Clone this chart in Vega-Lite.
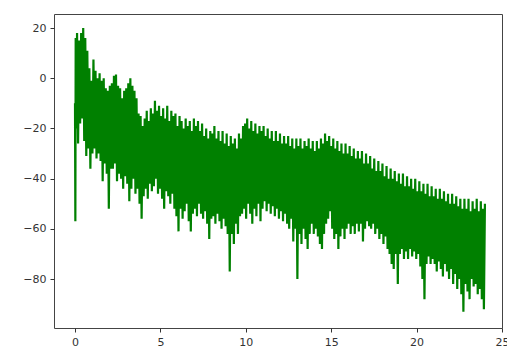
{
  "$schema": "https://vega.github.io/schema/vega-lite/v6.json",
  "width": 448,
  "height": 314,
  "autosize": {"type": "none"},
  "padding": {"left": 54, "top": 14, "right": 5, "bottom": 24},
  "background": "white",
  "config": {
    "view": {"stroke": "#444", "strokeWidth": 1},
    "axis": {"grid": false, "domain": false, "tickColor": "#333", "tickSize": 4, "labelColor": "#333", "labelFont": "DejaVu Sans", "labelFontSize": 11, "labelPadding": 4, "title": null}
  },
  "data": {"values": [
    {"f":0.00,"db":-10},{"f":0.02,"db":-57},{"f":0.04,"db":16},
    {"f":0.06,"db":-20},{"f":0.12,"db":18},{"f":0.18,"db":-26},{"f":0.24,"db":15},{"f":0.30,"db":-18},{"f":0.36,"db":18},{"f":0.42,"db":-16},{"f":0.48,"db":20},{"f":0.54,"db":-25},{"f":0.60,"db":16},
    {"f":0.66,"db":-31},{"f":0.72,"db":11},{"f":0.78,"db":-28},{"f":0.84,"db":4},{"f":0.90,"db":-36},{"f":0.96,"db":-1},{"f":1.02,"db":-30},{"f":1.08,"db":7.5},{"f":1.14,"db":-28},{"f":1.20,"db":3},
    {"f":1.26,"db":-32},{"f":1.32,"db":0},{"f":1.38,"db":-30},{"f":1.44,"db":2},{"f":1.50,"db":-33},{"f":1.56,"db":-1},{"f":1.62,"db":-41},{"f":1.68,"db":0},{"f":1.74,"db":-34},{"f":1.80,"db":-4},
    {"f":1.86,"db":-38},{"f":1.92,"db":-5},{"f":1.98,"db":-52},{"f":2.04,"db":-3},{"f":2.10,"db":-36},{"f":2.16,"db":-2},{"f":2.22,"db":-36},{"f":2.28,"db":1},{"f":2.34,"db":-34},{"f":2.40,"db":1.5},
    {"f":2.46,"db":-41},{"f":2.52,"db":-3},{"f":2.58,"db":-38},{"f":2.64,"db":-4},{"f":2.70,"db":-40},{"f":2.76,"db":-8},{"f":2.82,"db":-44},{"f":2.88,"db":-5},{"f":2.94,"db":-39},{"f":3.00,"db":-4},
    {"f":3.06,"db":-42},{"f":3.12,"db":-2},{"f":3.18,"db":-49},{"f":3.24,"db":0},{"f":3.30,"db":-44},{"f":3.36,"db":-3},{"f":3.42,"db":-40},{"f":3.48,"db":-5},{"f":3.54,"db":-46},{"f":3.60,"db":-8},
    {"f":3.66,"db":-44},{"f":3.72,"db":-14},{"f":3.78,"db":-50},{"f":3.84,"db":-15},{"f":3.90,"db":-56},{"f":3.96,"db":-19},{"f":4.02,"db":-47},{"f":4.08,"db":-16},{"f":4.14,"db":-44},{"f":4.20,"db":-13},
    {"f":4.26,"db":-48},{"f":4.32,"db":-17},{"f":4.38,"db":-42},{"f":4.44,"db":-12},{"f":4.50,"db":-45},{"f":4.56,"db":-14},{"f":4.62,"db":-43},{"f":4.68,"db":-9},{"f":4.74,"db":-40},{"f":4.80,"db":-13},
    {"f":4.86,"db":-46},{"f":4.92,"db":-11},{"f":4.98,"db":-44},{"f":5.04,"db":-15},{"f":5.10,"db":-48},{"f":5.16,"db":-12},{"f":5.22,"db":-52},{"f":5.28,"db":-16},{"f":5.34,"db":-45},{"f":5.40,"db":-11},
    {"f":5.46,"db":-47},{"f":5.52,"db":-17},{"f":5.58,"db":-50},{"f":5.64,"db":-13},{"f":5.70,"db":-46},{"f":5.76,"db":-15},{"f":5.82,"db":-52},{"f":5.88,"db":-14},{"f":5.94,"db":-55},{"f":6.00,"db":-19},
    {"f":6.06,"db":-61},{"f":6.12,"db":-15},{"f":6.18,"db":-52},{"f":6.24,"db":-17},{"f":6.30,"db":-56},{"f":6.36,"db":-20},{"f":6.42,"db":-53},{"f":6.48,"db":-16},{"f":6.54,"db":-50},{"f":6.60,"db":-19},
    {"f":6.66,"db":-57},{"f":6.72,"db":-17},{"f":6.78,"db":-61},{"f":6.84,"db":-21},{"f":6.90,"db":-54},{"f":6.96,"db":-16},{"f":7.02,"db":-52},{"f":7.08,"db":-19},{"f":7.14,"db":-55},{"f":7.20,"db":-17},
    {"f":7.26,"db":-50},{"f":7.32,"db":-21},{"f":7.38,"db":-54},{"f":7.44,"db":-18},{"f":7.50,"db":-56},{"f":7.56,"db":-23},{"f":7.62,"db":-53},{"f":7.68,"db":-20},{"f":7.74,"db":-58},{"f":7.80,"db":-24},
    {"f":7.86,"db":-64},{"f":7.92,"db":-21},{"f":7.98,"db":-56},{"f":8.04,"db":-22},{"f":8.10,"db":-55},{"f":8.16,"db":-19},{"f":8.22,"db":-58},{"f":8.28,"db":-24},{"f":8.34,"db":-54},{"f":8.40,"db":-21},
    {"f":8.46,"db":-57},{"f":8.52,"db":-25},{"f":8.58,"db":-60},{"f":8.64,"db":-21},{"f":8.70,"db":-56},{"f":8.76,"db":-26},{"f":8.82,"db":-59},{"f":8.88,"db":-22},{"f":8.94,"db":-62},{"f":9.00,"db":-27},
    {"f":9.06,"db":-77},{"f":9.12,"db":-23},{"f":9.18,"db":-62},{"f":9.24,"db":-26},{"f":9.30,"db":-66},{"f":9.36,"db":-24},{"f":9.42,"db":-58},{"f":9.48,"db":-28},{"f":9.54,"db":-62},{"f":9.60,"db":-22},
    {"f":9.66,"db":-55},{"f":9.72,"db":-24},{"f":9.78,"db":-54},{"f":9.84,"db":-19},{"f":9.90,"db":-52},{"f":9.96,"db":-18},{"f":10.02,"db":-56},{"f":10.08,"db":-16},{"f":10.14,"db":-50},{"f":10.20,"db":-20},
    {"f":10.26,"db":-54},{"f":10.32,"db":-17},{"f":10.38,"db":-58},{"f":10.44,"db":-21},{"f":10.50,"db":-52},{"f":10.56,"db":-18},{"f":10.62,"db":-55},{"f":10.68,"db":-22},{"f":10.74,"db":-50},{"f":10.80,"db":-19},
    {"f":10.86,"db":-57},{"f":10.92,"db":-21},{"f":10.98,"db":-52},{"f":11.04,"db":-19},{"f":11.10,"db":-49},{"f":11.16,"db":-23},{"f":11.22,"db":-53},{"f":11.28,"db":-20},{"f":11.34,"db":-50},{"f":11.40,"db":-24},
    {"f":11.46,"db":-54},{"f":11.52,"db":-21},{"f":11.58,"db":-51},{"f":11.64,"db":-25},{"f":11.70,"db":-55},{"f":11.76,"db":-21},{"f":11.82,"db":-52},{"f":11.88,"db":-25},{"f":11.94,"db":-56},{"f":12.00,"db":-22},
    {"f":12.06,"db":-53},{"f":12.12,"db":-26},{"f":12.18,"db":-57},{"f":12.24,"db":-23},{"f":12.30,"db":-54},{"f":12.36,"db":-26},{"f":12.42,"db":-58},{"f":12.48,"db":-23},{"f":12.54,"db":-60},{"f":12.60,"db":-27},
    {"f":12.66,"db":-56},{"f":12.72,"db":-24},{"f":12.78,"db":-65},{"f":12.84,"db":-28},{"f":12.90,"db":-60},{"f":12.96,"db":-24},{"f":13.02,"db":-80},{"f":13.08,"db":-27},{"f":13.14,"db":-62},{"f":13.20,"db":-24},
    {"f":13.26,"db":-66},{"f":13.32,"db":-28},{"f":13.38,"db":-60},{"f":13.44,"db":-25},{"f":13.50,"db":-64},{"f":13.56,"db":-27},{"f":13.62,"db":-68},{"f":13.68,"db":-24},{"f":13.74,"db":-62},{"f":13.80,"db":-28},
    {"f":13.86,"db":-58},{"f":13.92,"db":-25},{"f":13.98,"db":-62},{"f":14.04,"db":-29},{"f":14.10,"db":-60},{"f":14.16,"db":-25},{"f":14.22,"db":-63},{"f":14.28,"db":-28},{"f":14.34,"db":-66},{"f":14.40,"db":-24},
    {"f":14.46,"db":-68},{"f":14.52,"db":-26},{"f":14.58,"db":-62},{"f":14.64,"db":-22},{"f":14.70,"db":-58},{"f":14.76,"db":-25},{"f":14.82,"db":-56},{"f":14.88,"db":-23},{"f":14.94,"db":-53},{"f":15.00,"db":-27},
    {"f":15.06,"db":-60},{"f":15.12,"db":-24},{"f":15.18,"db":-64},{"f":15.24,"db":-28},{"f":15.30,"db":-62},{"f":15.36,"db":-25},{"f":15.42,"db":-68},{"f":15.48,"db":-29},{"f":15.54,"db":-63},{"f":15.60,"db":-26},
    {"f":15.66,"db":-60},{"f":15.72,"db":-30},{"f":15.78,"db":-64},{"f":15.84,"db":-26},{"f":15.90,"db":-60},{"f":15.96,"db":-30},{"f":16.02,"db":-58},{"f":16.08,"db":-27},{"f":16.14,"db":-62},{"f":16.20,"db":-31},
    {"f":16.26,"db":-59},{"f":16.32,"db":-28},{"f":16.38,"db":-62},{"f":16.44,"db":-32},{"f":16.50,"db":-58},{"f":16.56,"db":-29},{"f":16.62,"db":-61},{"f":16.68,"db":-32},{"f":16.74,"db":-58},{"f":16.80,"db":-29},
    {"f":16.86,"db":-65},{"f":16.92,"db":-34},{"f":16.98,"db":-60},{"f":17.04,"db":-30},{"f":17.10,"db":-57},{"f":17.16,"db":-34},{"f":17.22,"db":-59},{"f":17.28,"db":-31},{"f":17.34,"db":-60},{"f":17.40,"db":-36},
    {"f":17.46,"db":-58},{"f":17.52,"db":-32},{"f":17.58,"db":-62},{"f":17.64,"db":-37},{"f":17.70,"db":-60},{"f":17.76,"db":-33},{"f":17.82,"db":-64},{"f":17.88,"db":-37},{"f":17.94,"db":-62},{"f":18.00,"db":-34},
    {"f":18.06,"db":-66},{"f":18.12,"db":-39},{"f":18.18,"db":-63},{"f":18.24,"db":-35},{"f":18.30,"db":-68},{"f":18.36,"db":-40},{"f":18.42,"db":-70},{"f":18.48,"db":-36},{"f":18.54,"db":-74},{"f":18.60,"db":-40},
    {"f":18.66,"db":-76},{"f":18.72,"db":-37},{"f":18.78,"db":-70},{"f":18.84,"db":-41},{"f":18.90,"db":-82},{"f":18.96,"db":-38},{"f":19.02,"db":-70},{"f":19.08,"db":-42},{"f":19.14,"db":-68},{"f":19.20,"db":-38},
    {"f":19.26,"db":-72},{"f":19.32,"db":-43},{"f":19.38,"db":-69},{"f":19.44,"db":-39},{"f":19.50,"db":-72},{"f":19.56,"db":-43},{"f":19.62,"db":-68},{"f":19.68,"db":-40},{"f":19.74,"db":-71},{"f":19.80,"db":-44},
    {"f":19.86,"db":-69},{"f":19.92,"db":-40},{"f":19.98,"db":-72},{"f":20.04,"db":-45},{"f":20.10,"db":-70},{"f":20.16,"db":-41},{"f":20.22,"db":-75},{"f":20.28,"db":-45},{"f":20.34,"db":-80},{"f":20.40,"db":-42},
    {"f":20.46,"db":-88},{"f":20.52,"db":-46},{"f":20.58,"db":-74},{"f":20.64,"db":-42},{"f":20.70,"db":-71},{"f":20.76,"db":-47},{"f":20.82,"db":-74},{"f":20.88,"db":-43},{"f":20.94,"db":-72},{"f":21.00,"db":-47},
    {"f":21.06,"db":-74},{"f":21.12,"db":-44},{"f":21.18,"db":-77},{"f":21.24,"db":-48},{"f":21.30,"db":-73},{"f":21.36,"db":-44},{"f":21.42,"db":-76},{"f":21.48,"db":-48},{"f":21.54,"db":-79},{"f":21.60,"db":-45},
    {"f":21.66,"db":-74},{"f":21.72,"db":-49},{"f":21.78,"db":-77},{"f":21.84,"db":-46},{"f":21.90,"db":-80},{"f":21.96,"db":-50},{"f":22.02,"db":-76},{"f":22.08,"db":-46},{"f":22.14,"db":-82},{"f":22.20,"db":-50},
    {"f":22.26,"db":-78},{"f":22.32,"db":-47},{"f":22.38,"db":-84},{"f":22.44,"db":-51},{"f":22.50,"db":-80},{"f":22.56,"db":-48},{"f":22.62,"db":-86},{"f":22.68,"db":-52},{"f":22.74,"db":-93},{"f":22.80,"db":-48},
    {"f":22.86,"db":-82},{"f":22.92,"db":-52},{"f":22.98,"db":-85},{"f":23.04,"db":-48},{"f":23.10,"db":-88},{"f":23.16,"db":-53},{"f":23.22,"db":-80},{"f":23.28,"db":-49},{"f":23.34,"db":-83},{"f":23.40,"db":-52},
    {"f":23.46,"db":-82},{"f":23.52,"db":-48},{"f":23.58,"db":-86},{"f":23.64,"db":-53},{"f":23.70,"db":-84},{"f":23.76,"db":-49},{"f":23.82,"db":-88},{"f":23.88,"db":-52},{"f":23.94,"db":-92},{"f":24.00,"db":-50}
  ]},
  "mark": {"type": "line", "color": "#008000", "strokeWidth": 2.2, "strokeJoin": "bevel", "clip": true},
  "encoding": {
    "x": {"field": "f", "type": "quantitative", "scale": {"domain": [-1.23, 25.0], "nice": false, "zero": false}, "axis": {"values": [0, 5, 10, 15, 20, 25], "format": "d", "labelFlush": false, "labelBound": false, "labelOverlap": false}},
    "y": {"field": "db", "type": "quantitative", "scale": {"domain": [-99.5, 25.6], "nice": false, "zero": false}, "axis": {"values": [-80, -60, -40, -20, 0, 20], "format": "d", "labelExpr": "replace(datum.label, '-', '\u2212')"}},
    "order": {"field": "f", "type": "quantitative"}
  }
}
